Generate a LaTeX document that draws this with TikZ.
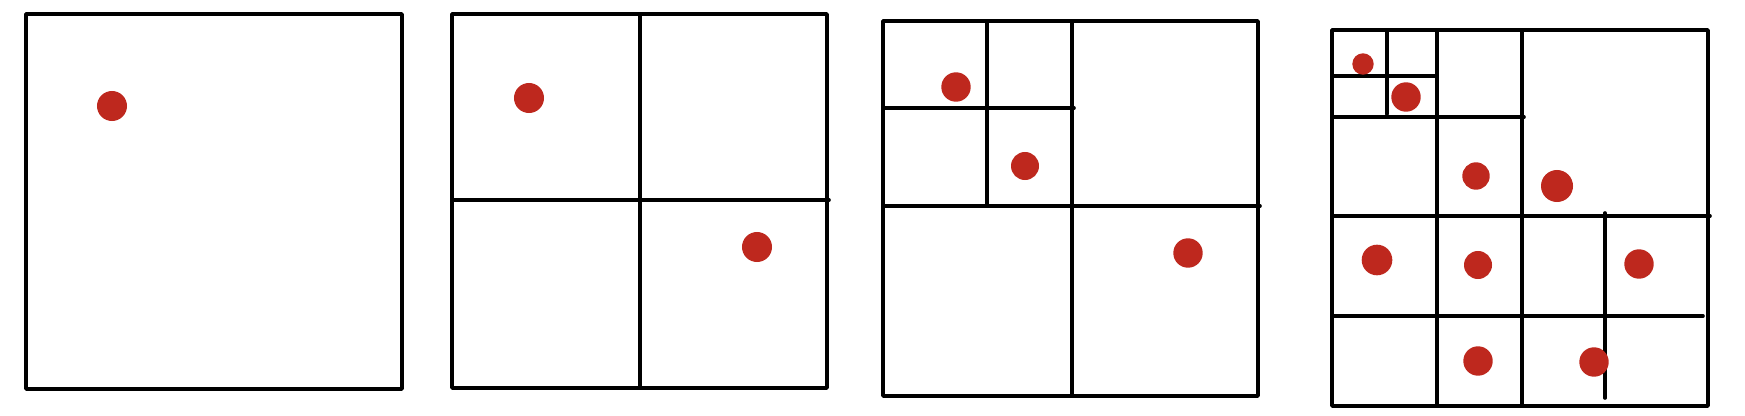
\documentclass[tikz,border=0pt]{standalone}
\begin{document}
\begin{tikzpicture}[x=0.01cm,y=-0.01cm,
  grid/.style={draw=black,line width=0.036cm,line cap=round,line join=round},
  pt/.style={circle,fill=dotred,inner sep=0pt,minimum size=#1*0.02cm},
  pt/.default=15]
\definecolor{dotred}{RGB}{190,40,30}
\useasboundingbox (0,0) rectangle (1745,415);
% Box 1
\draw[grid] (26,14) rectangle (402,389);
\node[pt] (a1) at (112,106) {};
% Box 2
\draw[grid] (452,14) rectangle (827,388);
\draw[grid] (640,14) -- (640,388);
\draw[grid] (452,200) -- (829,200);
\node[pt] (b1) at (529,98) {};
\node[pt] (b2) at (757,247) {};
% Box 3
\draw[grid] (883,21) rectangle (1258,396);
\draw[grid] (1072,21) -- (1072,396);
\draw[grid] (883,206) -- (1260,206);
\draw[grid] (987,21) -- (987,206);
\draw[grid] (883,108) -- (1074,108);
\node[pt=14.7] (c1) at (956,87) {};
\node[pt=14] (c2) at (1025,166) {};
\node[pt=14.7] (c3) at (1188,253) {};
% Box 4
\draw[grid] (1332,30) rectangle (1708,406);
\draw[grid] (1437,30) -- (1437,406);
\draw[grid] (1522,30) -- (1522,406);
\draw[grid] (1605,213) -- (1605,398);
\draw[grid] (1387,30) -- (1387,114);
\draw[grid] (1332,76) -- (1437,76);
\draw[grid] (1332,117) -- (1524,117);
\draw[grid] (1332,216) -- (1710,216);
\draw[grid] (1332,316) -- (1703,316);
\node[pt=10.7] (d1) at (1363,64) {};
\node[pt=14.7] (d2) at (1406,97) {};
\node[pt=13.7] (d3) at (1476,176) {};
\node[pt=16] (d4) at (1557,186) {};
\node[pt=15.3] (d5) at (1377,260) {};
\node[pt=14] (d6) at (1478,265) {};
\node[pt=14.7] (d7) at (1639,264) {};
\node[pt=14.7] (d8) at (1478,361) {};
\node[pt=14.7] (d9) at (1594,362) {};
\end{tikzpicture}
\end{document}
